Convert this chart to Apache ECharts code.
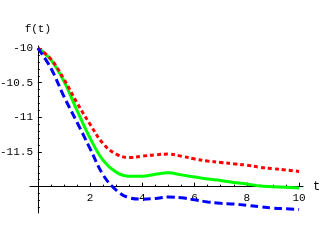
<!DOCTYPE html>
<html><head><meta charset="utf-8">
<script src="https://cdn.jsdelivr.net/npm/echarts@6/dist/echarts.min.js"></script>
<style>html,body{margin:0;padding:0;background:#fff}#c{width:324px;height:240px}</style>
</head><body><div id="c"></div>
<script>
var tValues = [0,0.5,1,1.5,2,2.5,3,3.5,4,4.5,5,5.5,6,6.5,7,7.5,8,8.5,9,9.5,10];
var redValues = [-10.00,-10.16,-10.45,-10.79,-11.10,-11.38,-11.53,-11.58,-11.56,-11.54,-11.53,-11.56,-11.60,-11.63,-11.65,-11.67,-11.69,-11.72,-11.74,-11.76,-11.78];
var greenValues = [-10.00,-10.17,-10.48,-10.90,-11.30,-11.62,-11.79,-11.85,-11.85,-11.82,-11.80,-11.83,-11.86,-11.89,-11.91,-11.94,-11.96,-11.99,-12.00,-12.01,-12.02];
var blueValues = [-10.00,-10.29,-10.70,-11.07,-11.45,-11.83,-12.05,-12.16,-12.18,-12.17,-12.15,-12.16,-12.19,-12.22,-12.24,-12.25,-12.27,-12.29,-12.31,-12.32,-12.33];
var xTickLabels = [2,4,6,8,10];
var xMinorTicks = [0.5,1,1.5,2.5,3,3.5,4.5,5,5.5,6.5,7,7.5,8.5,9,9.5];
var yTickLabels = [-11.5,-11,-10.5,-10];
var yMinorTicks = [-12.3,-12.2,-12.1,-11.9,-11.8,-11.7,-11.6,-11.4,-11.3,-11.2,-11.1,-10.9,-10.8,-10.7,-10.6,-10.4,-10.3,-10.2,-10.1];

function pairs(vals){ return tValues.map(function(t,i){return [t, vals[i]];}); }

var X_MIN=-0.3, X_MAX=10.15, Y_MIN=-12.38, Y_MAX=-9.97, Y_AXIS=-12;
var FONT = '"Liberation Mono", "Courier New", monospace';
var font = {fontFamily:FONT, fontSize:11, color:'#000'};
var axisCol = '#000';
var gridLeft=30, gridTop=46, gridW=273, gridH=167;
var grid1H = gridH*(Y_MAX-Y_AXIS)/(Y_MAX-Y_MIN);

var chart = echarts.init(document.getElementById('c'), null, {renderer:'canvas'});
var hiddenX = function(gi){ return {type:'value', gridIndex:gi, min:X_MIN, max:X_MAX, axisLine:{show:false}, axisTick:{show:false}, axisLabel:{show:false}, splitLine:{show:false}}; };
chart.setOption({
  animation:false,
  backgroundColor:'#fff',
  grid:[
    {left:gridLeft, top:gridTop, width:gridW, height:gridH, containLabel:false, outerBoundsMode:'none'},
    {left:gridLeft, top:gridTop, width:gridW, height:grid1H, containLabel:false, outerBoundsMode:'none'}
  ],
  xAxis:[
    hiddenX(0),
    hiddenX(0),
    {type:'value', gridIndex:1, min:X_MIN, max:X_MAX, position:'bottom',
     axisLine:{show:true, onZero:false, lineStyle:{color:axisCol, width:1}},
     axisTick:{show:true, inside:true, length:4, customValues:xTickLabels, lineStyle:{color:axisCol}},
     axisLabel:{show:true, customValues:xTickLabels, margin:6, fontFamily:font.fontFamily, fontSize:font.fontSize, color:font.color},
     splitLine:{show:false},
     name:'t', nameLocation:'end', nameGap:10, nameTextStyle:{fontFamily:font.fontFamily, fontSize:12, color:font.color}},
    {type:'value', gridIndex:1, min:X_MIN, max:X_MAX, position:'bottom',
     axisLine:{show:false, onZero:false},
     axisTick:{show:true, inside:true, length:2, customValues:xMinorTicks, lineStyle:{color:axisCol}},
     axisLabel:{show:false}, splitLine:{show:false}}
  ],
  yAxis:[
    {type:'value', gridIndex:0, min:Y_MIN, max:Y_MAX, position:'left',
     axisLine:{show:true, onZero:true, onZeroAxisIndex:0, lineStyle:{color:axisCol, width:1}},
     axisTick:{show:true, inside:true, length:4, customValues:yTickLabels, lineStyle:{color:axisCol}},
     axisLabel:{show:true, customValues:yTickLabels, margin:-3, fontFamily:font.fontFamily, fontSize:font.fontSize, color:font.color,
       formatter:function(v){return String(v);}},
     splitLine:{show:false},
     name:'f(t)', nameLocation:'end', nameGap:11, nameTextStyle:{fontFamily:font.fontFamily, fontSize:11, color:font.color, align:'center'}},
    {type:'value', gridIndex:0, min:Y_MIN, max:Y_MAX, position:'left',
     axisLine:{show:false, onZero:true, onZeroAxisIndex:1},
     axisTick:{show:true, inside:true, length:2, customValues:yMinorTicks, lineStyle:{color:axisCol}},
     axisLabel:{show:false}, splitLine:{show:false}},
    {type:'value', gridIndex:1, min:Y_AXIS, max:Y_MAX, show:false, splitLine:{show:false}}
  ],
  series:[
    {type:'line', xAxisIndex:0, yAxisIndex:0, data:pairs(greenValues), showSymbol:false, smooth:0.4,
     lineStyle:{color:'#00ff00', width:3, type:'solid'}},
    {type:'line', xAxisIndex:0, yAxisIndex:0, data:pairs(redValues), showSymbol:false, smooth:0.4,
     lineStyle:{color:'#ff0000', width:3, type:[4,3]}},
    {type:'line', xAxisIndex:0, yAxisIndex:0, data:pairs(blueValues), showSymbol:false, smooth:0.4,
     lineStyle:{color:'#0000ff', width:3, type:[8,4]}}
  ]
});
</script></body></html>
